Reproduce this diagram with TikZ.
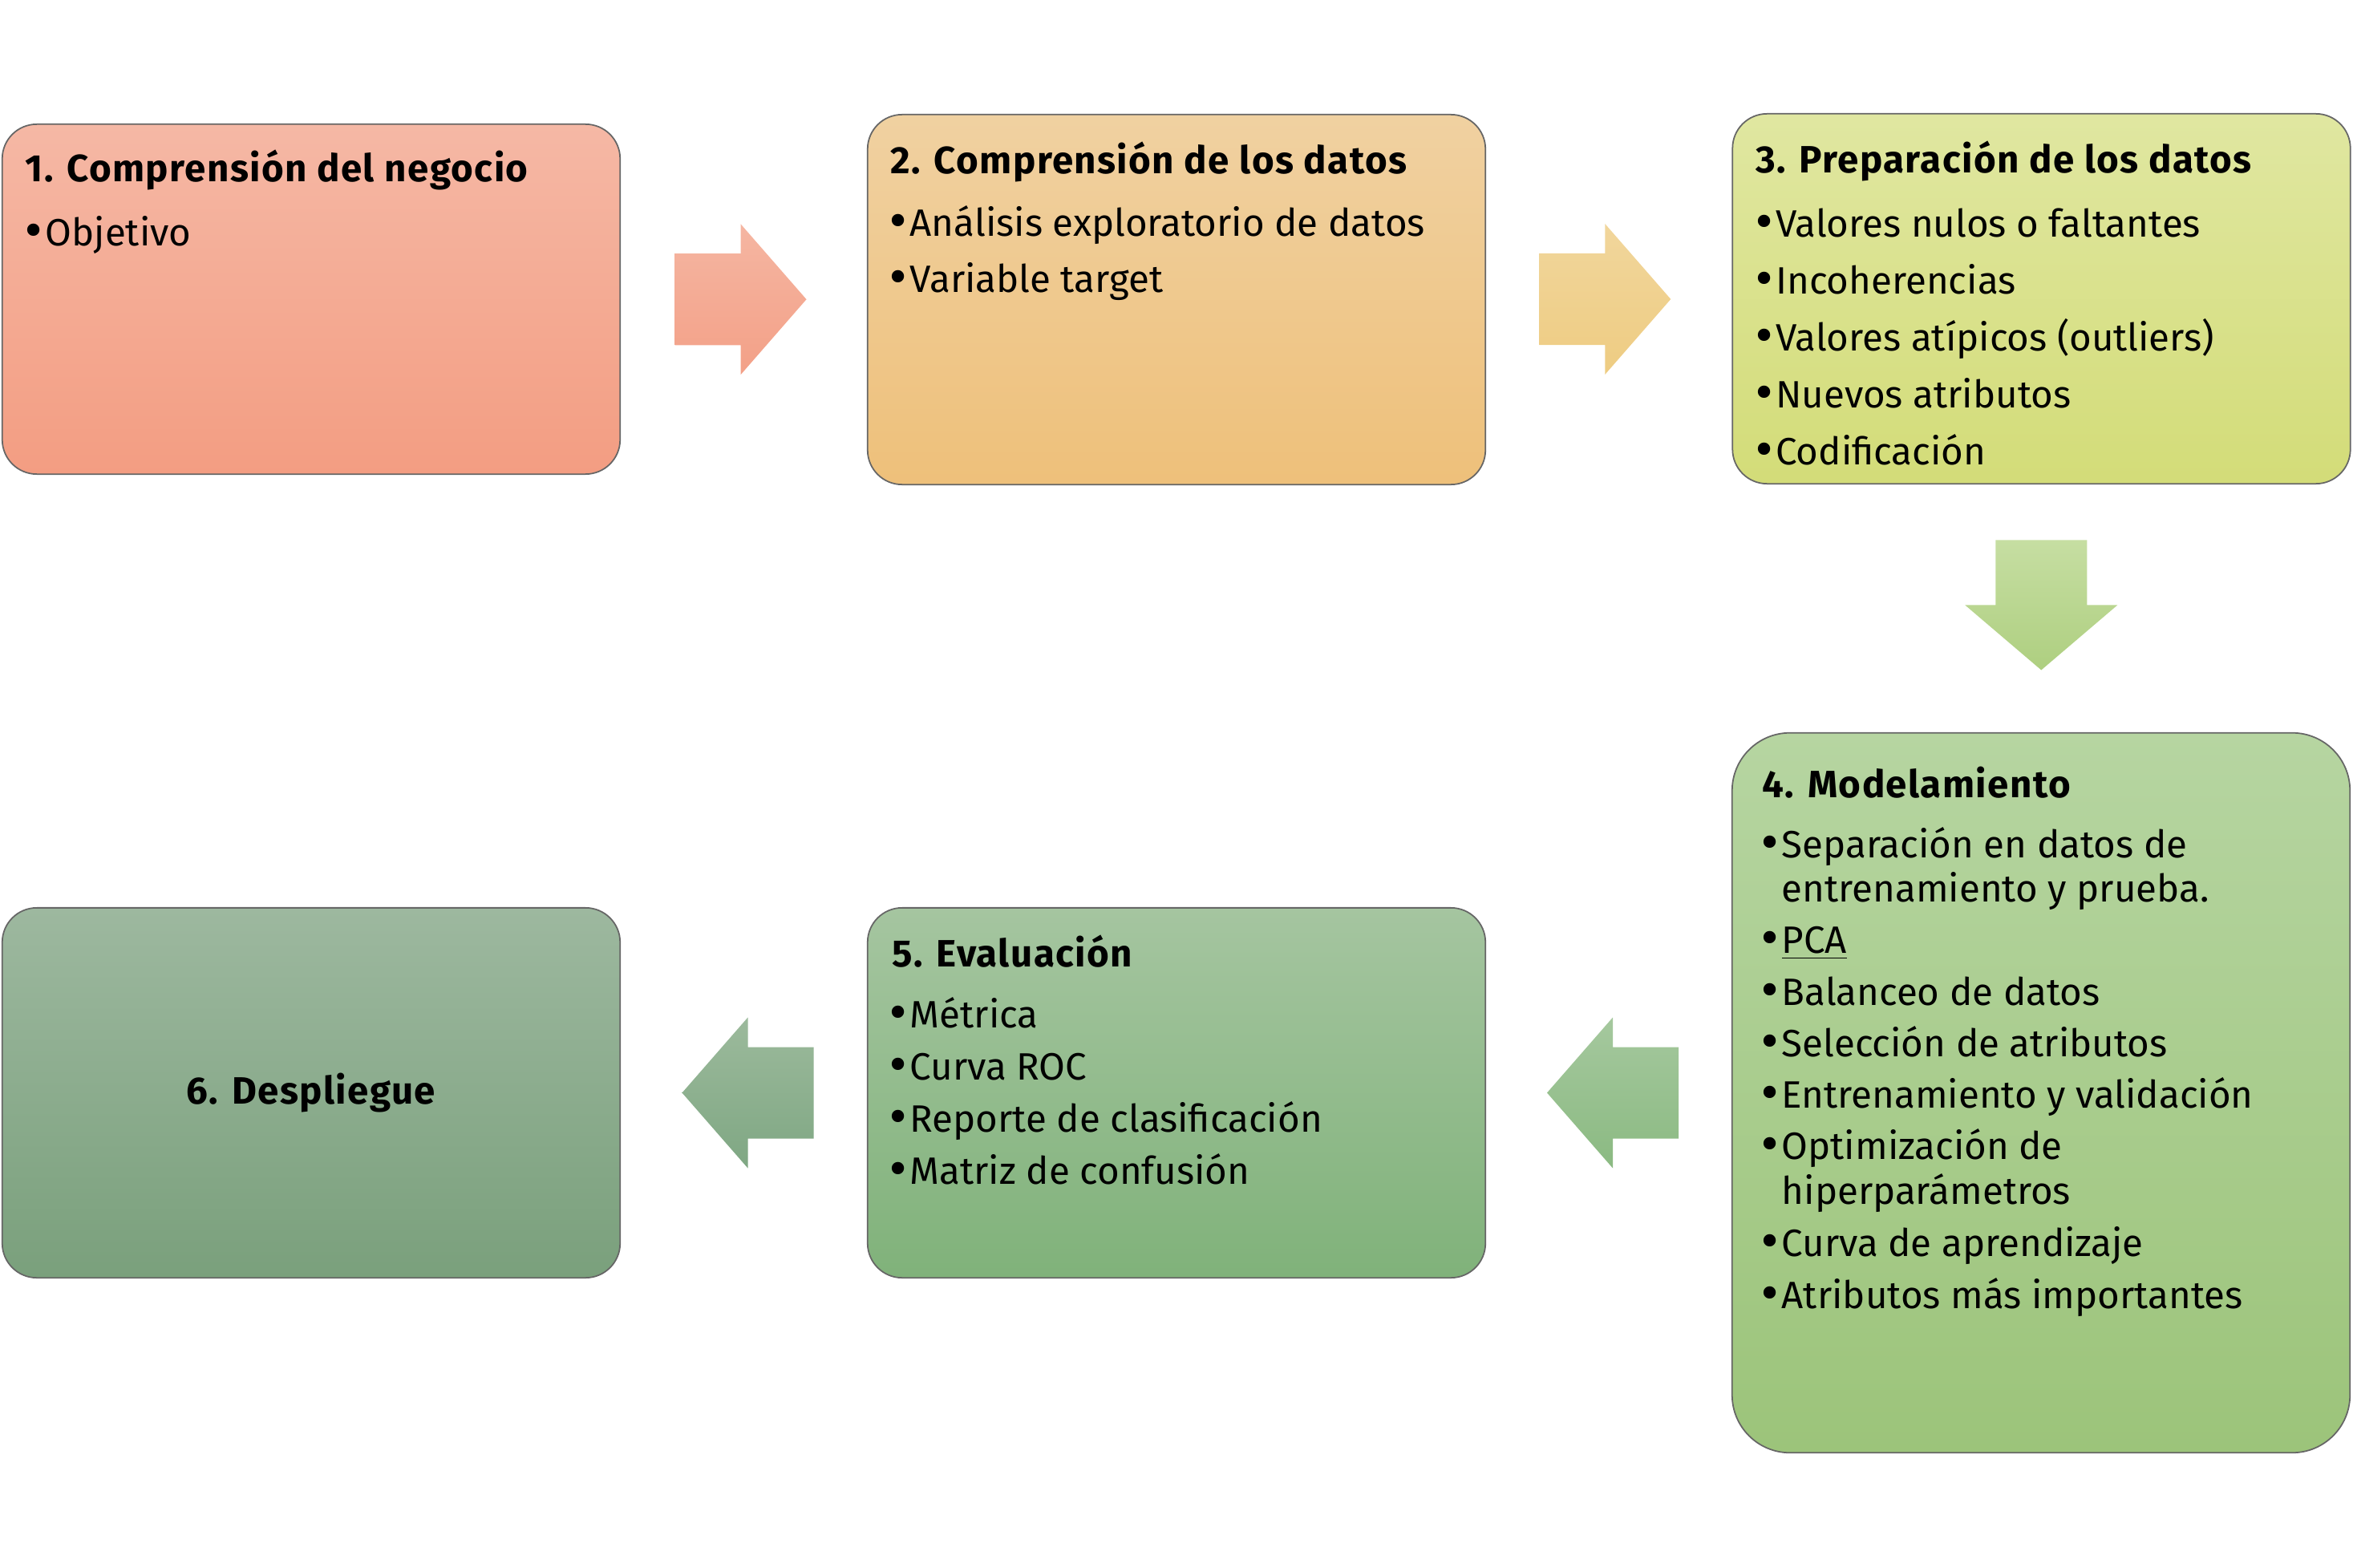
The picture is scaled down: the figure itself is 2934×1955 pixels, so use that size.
\documentclass[tikz,border=0pt]{standalone}
\usepackage{fontspec}
\setmainfont{Fira Sans}
\newfontfamily\dotfont{DejaVu Sans}
\usetikzlibrary{calc}

\definecolor{c1t}{RGB}{245,184,165}\definecolor{c1b}{RGB}{243,157,130}
\definecolor{c2t}{RGB}{240,209,161}\definecolor{c2b}{RGB}{238,192,122}
\definecolor{c3t}{RGB}{224,231,161}\definecolor{c3b}{RGB}{211,220,120}
\definecolor{c4t}{RGB}{182,213,161}\definecolor{c4b}{RGB}{156,196,122}
\definecolor{c5t}{RGB}{165,197,160}\definecolor{c5b}{RGB}{128,178,122}
\definecolor{c6t}{RGB}{157,184,159}\definecolor{c6b}{RGB}{122,160,124}
\definecolor{a1t}{RGB}{245,182,162}\definecolor{a1b}{RGB}{243,160,135}
\definecolor{a2t}{RGB}{241,214,156}\definecolor{a2b}{RGB}{238,204,130}
\definecolor{a3t}{RGB}{198,222,162}\definecolor{a3b}{RGB}{174,207,128}
\definecolor{a4t}{RGB}{165,200,158}\definecolor{a4b}{RGB}{139,186,130}
\definecolor{a5t}{RGB}{156,186,156}\definecolor{a5b}{RGB}{127,167,131}

\newcommand{\bul}{\makebox[6.3pt][l]{\hspace{-2.3pt}{\dotfont\fontsize{15}{15}\selectfont •}}}

\tikzset{
  stage/.style={draw=black!60, line width=0.5pt, rounded corners=0.43cm,
    inner sep=0pt, minimum width=7.7cm, minimum height=4.61cm},
  title/.style={anchor=base west, inner sep=0pt,
    font=\fontsize{13.5}{15}\selectfont\bfseries\addfontfeatures{LetterSpace=3}},
  item/.style={anchor=base west, inner sep=0pt,
    font=\fontsize{13.5}{15}\selectfont},
  pics/rarrow/.style={code={
    \shade[#1] (-82,-57) -- (0,-57) -- (0,-94) -- (82,0) -- (0,94)
      -- (0,57) -- (-82,57) -- cycle;}},
  pics/darrow/.style={code={
    \shade[#1] (-57,-81) -- (57,-81) -- (57,0) -- (95,0) -- (0,81)
      -- (-95,0) -- (-57,0) -- cycle;}},
}

\begin{document}
\begin{tikzpicture}[x=0.01cm,y=-0.01cm]
  \useasboundingbox (0,0) rectangle (2934,1955);
  % boxes
  \node[stage, minimum height=4.36cm, top color=c1t, bottom color=c1b] (s1) at (388,373) {};
  \node[stage, top color=c2t, bottom color=c2b] (s2) at (1467,373.5) {};
  \node[stage, top color=c3t, bottom color=c3b] (s3) at (2545.5,372.5) {};
  \node[stage, minimum height=8.97cm, rounded corners=0.72cm,
        top color=c4t, bottom color=c4b] (s4) at (2545,1362.5) {};
  \node[stage, top color=c5t, bottom color=c5b] (s5) at (1467,1362.5) {};
  \node[stage, top color=c6t, bottom color=c6b] (s6) at (388,1362.5) {};

  % arrows between the boxes
  \coordinate (a12) at ($(s1.east)!0.5!(s2.west)$);
  \coordinate (a23) at ($(s2.east)!0.5!(s3.west)$);
  \coordinate (a34) at ($(s3.south)!0.5!(s4.north)$);
  \coordinate (a45) at ($(s5.east)!0.5!(s4.west)$);
  \coordinate (a56) at ($(s6.east)!0.5!(s5.west)$);
  \pic at ($(a12)+(-4,0)$) {rarrow={top color=a1t, bottom color=a1b}};
  \pic at ($(a23)+(-5,0)$) {rarrow={top color=a2t, bottom color=a2b}};
  \pic at ($(a34)+(0,-4)$) {darrow={top color=a3t, bottom color=a3b}};
  \pic[xscale=-1] at ($(a45)+(5,0)$) {rarrow={top color=a4t, bottom color=a4b}};
  \pic[xscale=-1] at ($(a56)+(5,0)$) {rarrow={top color=a5t, bottom color=a5b}};

  % 1
  \node[title] (h1) at ($(s1.north west)+(29,73)$) {1. Comprensión del negocio};
  \node[item] (t1-1) at ($(s1.north west)+(32,153)$) {\bul Objetivo};
  % 2
  \node[title] (h2) at ($(s2.north west)+(29,75)$) {2. Comprensión de los datos};
  \foreach \t [count=\i] in {Análisis exploratorio de datos, Variable target}
    \node[item] (t2-\i) at ($(s2.north west)+(31,{153+70*(\i-1)})$) {\bul\t};
  % 3
  \node[title] (h3) at ($(s3.north west)+(29,75)$) {3. Preparación de los datos};
  \foreach \t [count=\i] in {Valores nulos o faltantes, Incoherencias,
      Valores atípicos (outliers), Nuevos atributos, Codificación}
    \node[item] (t3-\i) at ($(s3.north west)+(32,{155+71*(\i-1)})$) {\bul\t};
  % 4
  \node[title] (h4) at ($(s4.north west)+(38,82)$) {4. Modelamiento};
  \foreach \dy/\t [count=\i] in {157/{\bul Separación en datos de},
      212/{\phantom{\bul}entrenamiento y prueba.}, 276/{\bul\underline{PCA}},
      341/{\bul Balanceo de datos}, 405/{\bul Selección de atributos},
      469/{\bul Entrenamiento y validación}, 533/{\bul Optimización de},
      589/{\phantom{\bul}hiperparámetros}, 654/{\bul Curva de aprendizaje},
      719/{\bul Atributos más importantes}}
    \node[item] (t4-\i) at ($(s4.north west)+(40,\dy)$) {\t};
  % 5
  \node[title] (h5) at ($(s5.north west)+(31,74)$) {5. Evaluación};
  \foreach \t [count=\i] in {Métrica, Curva ROC, Reporte de clasificación,
      Matriz de confusión}
    \node[item] (t5-\i) at ($(s5.north west)+(31,{150+65*(\i-1)})$) {\bul\t};
  % 6
  \node[title, anchor=center] (h6) at (s6.center) {6. Despliegue};
\end{tikzpicture}
\end{document}
